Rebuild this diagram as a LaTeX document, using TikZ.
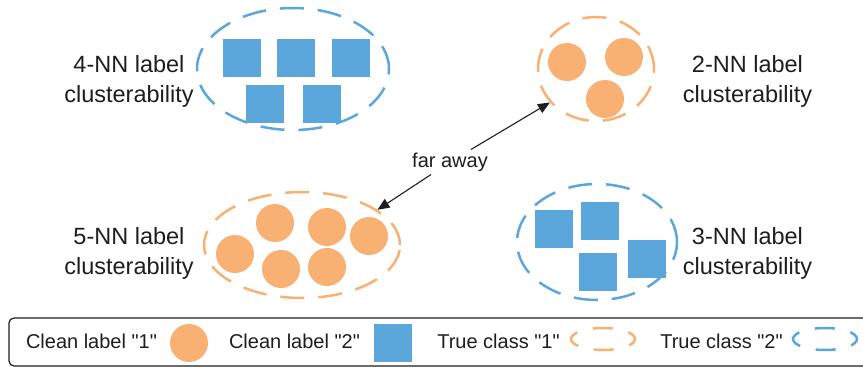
\documentclass[tikz,border=0pt]{standalone}
\usepackage{fontspec}
\setmainfont{Liberation Sans}
\usetikzlibrary{shapes.geometric,arrows.meta}
\definecolor{corange}{RGB}{248,177,115}
\definecolor{cblue}{RGB}{91,167,219}
\definecolor{ctext}{RGB}{30,30,30}
\newcommand{\sq}{\textquotedbl}
\begin{document}
\begin{tikzpicture}[x=1pt,y=-1pt,
  grp/.style={ellipse,draw,line width=2.5pt,inner sep=0pt,dash pattern=on 24pt off 14pt},
  ogrp/.style={grp,draw=corange},
  bgrp/.style={grp,draw=cblue},
  dot/.style={circle,fill=corange,minimum size=38pt,inner sep=0pt},
  sqr/.style={rectangle,fill=cblue,minimum size=38pt,inner sep=0pt},
  lab/.style={align=center,anchor=north,inner sep=0pt,text=ctext,font=\fontsize{23.5}{30.5}\selectfont},
  leg/.style={anchor=base,inner sep=0pt,text=ctext,font=\fontsize{20}{24}\selectfont},
  arr/.style={draw=ctext,line width=1.1pt,-{Triangle[length=12pt,width=10pt]}},
  legell/.style={ellipse,draw,line width=2.5pt,inner sep=0pt,minimum width=64pt,minimum height=22pt,dash pattern=on 20pt off 16pt,dash phase=10pt}
]
\useasboundingbox (0,0) rectangle (863,367);
\fill[white] (0,0) rectangle (863,367);

% group 1: 4-NN (blue)
\node[bgrp,minimum width=192pt,minimum height=122pt] (e1) at (293,69) {};
\node[sqr] (s11) at (242,58) {};
\node[sqr] (s12) at (296,58) {};
\node[sqr] (s13) at (351,58) {};
\node[sqr] (s14) at (265,104) {};
\node[sqr] (s15) at (322,104) {};
\node[lab] (t1) at (129,55) {4-NN label\\clusterability};

% group 2: 2-NN (orange)
\node[ogrp,minimum width=116pt,minimum height=104pt] (e2) at (596,69) {};
\node[dot] (c21) at (567,62) {};
\node[dot] (c22) at (624,57) {};
\node[dot] (c23) at (605,99) {};
\node[lab] (t2) at (747.5,55) {2-NN label\\clusterability};

% group 3: 5-NN (orange)
\node[ogrp,minimum width=196pt,minimum height=106pt] (e3) at (302,245) {};
\node[dot] (c31) at (235,254) {};
\node[dot] (c32) at (275,223) {};
\node[dot] (c33) at (281,269) {};
\node[dot] (c34) at (327,227) {};
\node[dot] (c35) at (327,267) {};
\node[dot] (c36) at (369,236) {};
\node[lab] (t3) at (129,227) {5-NN label\\clusterability};

% group 4: 3-NN (blue)
\node[bgrp,minimum width=160pt,minimum height=116pt] (e4) at (597,242) {};
\node[sqr] (s41) at (554,229) {};
\node[sqr] (s42) at (600,221) {};
\node[sqr] (s43) at (598,272) {};
\node[sqr] (s44) at (647,259) {};
\node[lab] (t4) at (747.5,227) {3-NN label\\clusterability};

% far away arrow
\node[fill=white,inner sep=3pt,text=ctext,font=\fontsize{20}{24}\selectfont] (far) at (450,162) {far away};
\draw[arr] (far) -- (e2.216);
\draw[arr] (far) -- (e3.25);

% legend
\draw[draw=ctext,line width=1.2pt,rounded corners=5pt] (9,318) rectangle (900,366);
\node[leg] (l1) at (91.5,348) {Clean label \sq1\sq};
\node[dot] (l1s) at (189,343) {};
\node[leg] (l2) at (294.5,348) {Clean label \sq2\sq};
\node[sqr] (l2s) at (393,343) {};
\node[leg] (l3) at (498.5,348) {True class \sq1\sq};
\node[legell,draw=corange] (l3s) at (603,339) {};
\node[leg] (l4) at (721.5,348) {True class \sq2\sq};
\node[legell,draw=cblue] (l4s) at (825,339) {};
\end{tikzpicture}
\end{document}
